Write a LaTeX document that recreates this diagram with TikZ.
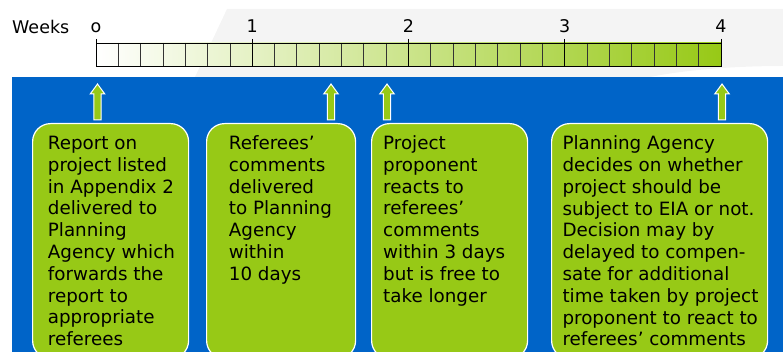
\documentclass[tikz,border=0pt]{standalone}
\usepackage{fontspec}
\setmainfont{DejaVu Sans}
\usetikzlibrary{calc}
\definecolor{bgblue}{HTML}{0064C8}
\definecolor{boxgreen}{HTML}{97C916}
\definecolor{palegray}{HTML}{F4F4F4}
\newcommand{\firstline}{\rule{0pt}{15pt}}
\begin{document}
\begin{tikzpicture}[x=1pt,y=-1pt,
  stepbox/.style={draw=white, line width=1.2pt, fill=boxgreen, rounded corners=18pt, anchor=north west, inner sep=0pt},
  boxtext/.style={anchor=north west, align=left, inner sep=0pt, font=\fontsize{18.3}{21.8}\selectfont, text=black},
  ticklabel/.style={anchor=base, inner sep=0pt, font=\fontsize{17.5}{20}\selectfont},
  uparrow/.style={fill=boxgreen, draw=white, line width=1pt},
  cellline/.style={line width=0.8pt, black!80},
  weekline/.style={line width=0.9pt, black}
]
\useasboundingbox (0,0) rectangle (783,352);
% light gray background band
\fill[palegray] (227,9) -- (783,9) -- (783,66) .. controls (740,66) and (690,69) .. (650,77) -- (195,77) -- cycle;
% blue panel
\fill[bgblue] (12,77) rectangle (783,352);
% timeline
\node[ticklabel, anchor=base west] (weeks) at (12,34) {Weeks};
\shade[left color=white, right color=boxgreen] (96,43) rectangle (721,66);
\foreach \i in {1,...,27} \draw[cellline] ({96+\i*22.3214},43) -- ({96+\i*22.3214},66);
\draw[weekline] (96,43) rectangle (721,66);
\foreach \k/\lab in {0/o,1/1,2/2,3/3,4/4} {
  \draw[weekline] ({96+\k*156.25},39) -- ({96+\k*156.25},66);
  \node[ticklabel] (w\k) at ({96+\k*156.25},32.5) {\lab};
}
% arrows
\foreach \ax in {97.5,331,387,722} {
  \draw[uparrow] ({\ax-3.7},120) -- ({\ax-3.7},94) -- ({\ax-7.3},94) -- (\ax,84) -- ({\ax+7.3},94) -- ({\ax+3.7},94) -- ({\ax+3.7},120) -- cycle;
}
% boxes
\node[stepbox, minimum width=156pt, minimum height=235pt] (b1) at (32,123) {};
\node[stepbox, minimum width=149pt, minimum height=235pt] (b2) at (206,123) {};
\node[stepbox, minimum width=156pt, minimum height=235pt] (b3) at (371,123) {};
\node[stepbox, minimum width=216pt, minimum height=235pt] (b4) at (551,123) {};
\node[boxtext] (t1) at (47.7,134.3) {\firstline Report on\\project listed\\in Appendix 2\\delivered to\\Planning\\Agency which\\forwards the\\report to\\appropriate\\referees};
\node[boxtext] (t2) at (228.7,134.3) {\firstline Referees’\\comments\\delivered\\to Planning\\Agency\\within\\10 days};
\node[boxtext] (t3) at (383,134.3) {\firstline Project\\proponent\\reacts to\\referees’\\comments\\within 3 days\\but is free to\\take longer};
\node[boxtext] (t4) at (562.3,134.5) {\firstline Planning Agency\\decides on whether\\project should be\\subject to EIA or not.\\Decision may by\\delayed to compen-\\sate for additional\\time taken by project\\proponent to react to\\referees’ comments};
\end{tikzpicture}
\end{document}
